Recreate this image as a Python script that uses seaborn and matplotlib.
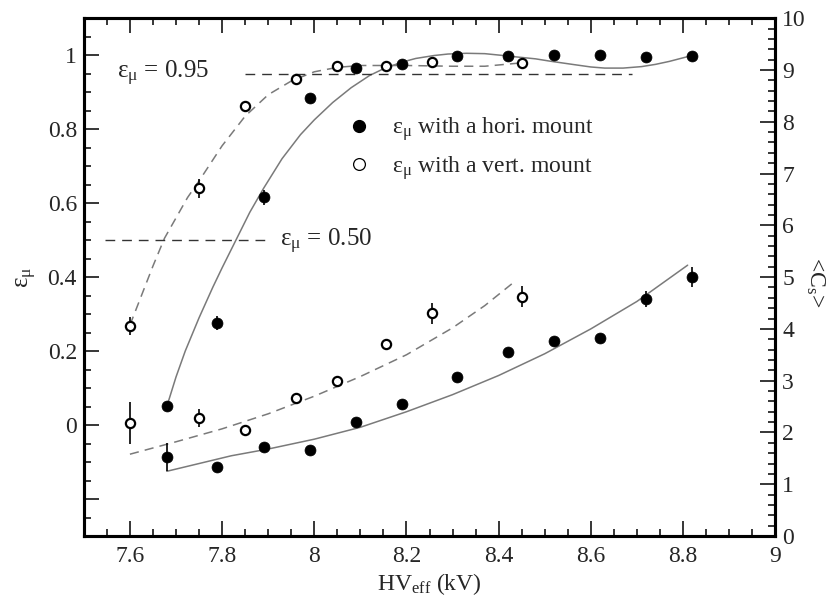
import matplotlib
matplotlib.use("Agg")
import matplotlib.pyplot as plt
import seaborn as sns
from matplotlib.ticker import MultipleLocator, FuncFormatter
from matplotlib.lines import Line2D

# ---------------- data ----------------
# efficiency, horizontal mount (filled), left axis
hv_hori = [7.68, 7.79, 7.89, 7.99, 8.09, 8.19, 8.31, 8.42, 8.52, 8.62, 8.72, 8.82]
eff_hori = [0.051, 0.276, 0.616, 0.884, 0.965, 0.976, 0.997, 0.997, 1.0, 1.0, 0.995, 0.997]
eff_hori_err = [0.012, 0.02, 0.02, 0.01, 0.005, 0.005, 0.004, 0.004, 0.003, 0.003, 0.003, 0.003]

# efficiency, vertical mount (open), left axis
hv_vert = [7.60, 7.75, 7.85, 7.96, 8.05, 8.155, 8.255, 8.45]
eff_vert = [0.268, 0.640, 0.862, 0.935, 0.970, 0.970, 0.981, 0.978]
eff_vert_err = [0.025, 0.025, 0.015, 0.008, 0.005, 0.005, 0.004, 0.004]

# cluster size <C_s>, right axis
cs_hori = [1.52, 1.33, 1.72, 1.66, 2.20, 2.55, 3.07, 3.55, 3.76, 3.82, 4.58, 5.00]
cs_hori_err = [0.27, 0.05, 0.06, 0.05, 0.05, 0.05, 0.05, 0.06, 0.06, 0.06, 0.15, 0.20]
cs_vert = [2.18, 2.28, 2.05, 2.66, 2.99, 3.71, 4.30, 4.62]
cs_vert_err = [0.40, 0.18, 0.05, 0.05, 0.05, 0.10, 0.20, 0.20]

# fitted curves
fit_eff_hori_x = [7.68, 7.70, 7.72, 7.75, 7.78, 7.80, 7.83, 7.86, 7.89, 7.93, 7.97, 8.00,
                  8.04, 8.08, 8.12, 8.15, 8.19, 8.22, 8.26, 8.29, 8.33, 8.37, 8.41, 8.44,
                  8.48, 8.51, 8.56, 8.60, 8.63, 8.67, 8.71, 8.74, 8.77, 8.81]
fit_eff_hori_y = [0.05, 0.13, 0.20, 0.29, 0.373, 0.425, 0.50, 0.575, 0.64, 0.72, 0.785, 0.825,
                  0.872, 0.912, 0.945, 0.963, 0.981, 0.991, 0.999, 1.003, 1.005, 1.004, 0.999, 0.995,
                  0.990, 0.984, 0.975, 0.968, 0.965, 0.965, 0.969, 0.975, 0.983, 0.996]
fit_eff_vert_x = [7.60, 7.625, 7.65, 7.675, 7.70, 7.725, 7.75, 7.80, 7.85, 7.90, 7.95, 8.00,
                  8.05, 8.10, 8.20, 8.30, 8.37, 8.44]
fit_eff_vert_y = [0.27, 0.35, 0.43, 0.505, 0.56, 0.615, 0.66, 0.755, 0.835, 0.893, 0.93, 0.955,
                  0.967, 0.972, 0.972, 0.970, 0.970, 0.978]
fit_cs_hori_x = [7.68, 7.75, 7.82, 7.90, 8.00, 8.10, 8.20, 8.30, 8.40, 8.50, 8.60, 8.70, 8.81]
fit_cs_hori_y = [1.25, 1.40, 1.55, 1.68, 1.87, 2.10, 2.40, 2.73, 3.10, 3.52, 4.00, 4.53, 5.23]
fit_cs_vert_x = [7.60, 7.70, 7.80, 7.90, 8.00, 8.10, 8.20, 8.30, 8.37, 8.43]
fit_cs_vert_y = [1.58, 1.82, 2.07, 2.36, 2.70, 3.08, 3.50, 4.02, 4.45, 4.88]

# reference levels
ref95_x = [7.85, 8.69]
ref95_y = [0.95, 0.95]
ref50_x = [7.546, 7.90]
ref50_y = [0.50, 0.50]

legend_labels = ["ε$_{\\mathrm{μ}}$ with a hori. mount", "ε$_{\\mathrm{μ}}$ with a vert. mount"]

# ---------------- style ----------------
sns.set_theme(style="white")
plt.rcParams["font.family"] = ["Liberation Serif", "DejaVu Serif"]
plt.rcParams["mathtext.fontset"] = "custom"
plt.rcParams["mathtext.rm"] = "Liberation Serif"
plt.rcParams["mathtext.it"] = "Liberation Serif"
plt.rcParams["mathtext.bf"] = "Liberation Serif:bold"

FS = 17
fig = plt.figure(figsize=(8.3, 6.05), dpi=100)
ax = fig.add_axes([0.101, 0.114, 0.833, 0.856])
ax2 = ax.twinx()

fit_col = "#7a7a7a"
ref_col = "#333333"

# fit curves
sns.lineplot(x=fit_eff_hori_x, y=fit_eff_hori_y, ax=ax, color=fit_col, lw=1.1, estimator=None, zorder=2)
sns.lineplot(x=fit_eff_vert_x, y=fit_eff_vert_y, ax=ax, color=fit_col, lw=1.1, estimator=None,
             linestyle=(0, (6, 4)), zorder=2)
sns.lineplot(x=fit_cs_hori_x, y=fit_cs_hori_y, ax=ax2, color=fit_col, lw=1.1, estimator=None, zorder=2)
sns.lineplot(x=fit_cs_vert_x, y=fit_cs_vert_y, ax=ax2, color=fit_col, lw=1.1, estimator=None,
             linestyle=(0, (6, 4)), zorder=2)

# reference lines
sns.lineplot(x=ref95_x, y=ref95_y, ax=ax, color=ref_col, lw=1.0, estimator=None,
             linestyle=(0, (7, 5)), zorder=2)
sns.lineplot(x=ref50_x, y=ref50_y, ax=ax, color=ref_col, lw=1.0, estimator=None,
             linestyle=(0, (7, 5)), zorder=2)

# error bars
ax.errorbar(hv_hori, eff_hori, yerr=eff_hori_err, fmt="none", ecolor="black", elinewidth=1.2, capsize=0, zorder=3)
ax.errorbar(hv_vert, eff_vert, yerr=eff_vert_err, fmt="none", ecolor="black", elinewidth=1.2, capsize=0, zorder=3)
ax2.errorbar(hv_hori, cs_hori, yerr=cs_hori_err, fmt="none", ecolor="black", elinewidth=1.2, capsize=0, zorder=3)
ax2.errorbar(hv_vert, cs_vert, yerr=cs_vert_err, fmt="none", ecolor="black", elinewidth=1.2, capsize=0, zorder=3)

# points
sns.scatterplot(x=hv_hori, y=eff_hori, ax=ax, color="black", edgecolor="black", s=62, linewidth=0.5, zorder=4)
sns.scatterplot(x=hv_vert, y=eff_vert, ax=ax, color="white", edgecolor="black", s=44, linewidth=1.6, zorder=4)
sns.scatterplot(x=hv_hori, y=cs_hori, ax=ax2, color="black", edgecolor="black", s=62, linewidth=0.5, zorder=4)
sns.scatterplot(x=hv_vert, y=cs_vert, ax=ax2, color="white", edgecolor="black", s=44, linewidth=1.6, zorder=4)

# annotations
ax.text(7.572, 0.95, "ε$_{\\mathrm{μ}}$ = 0.95", ha="left", va="center", fontsize=FS + 1, zorder=5)
ax.text(7.925, 0.497, "ε$_{\\mathrm{μ}}$ = 0.50", ha="left", va="center", fontsize=FS + 1, zorder=5)

# legend
handles = [
    Line2D([], [], marker="o", ls="none", markerfacecolor="black", markeredgecolor="black", markersize=8.5),
    Line2D([], [], marker="o", ls="none", markerfacecolor="white", markeredgecolor="black",
           markersize=8.5, markeredgewidth=0.9),
]
ax.legend(handles, legend_labels, loc="upper left", bbox_to_anchor=(0.381, 0.812),
          frameon=False, fontsize=FS, handlelength=1.0, handletextpad=0.9,
          borderpad=0, borderaxespad=0, labelspacing=0.45)

# axes limits and ticks
ax.set_xlim(7.5, 9.0)
ax.set_ylim(-0.3, 1.1)
ax2.set_ylim(0, 10)

ax.xaxis.set_major_locator(MultipleLocator(0.2))
ax.xaxis.set_minor_locator(MultipleLocator(0.05))
ax.yaxis.set_major_locator(MultipleLocator(0.2))
ax.yaxis.set_minor_locator(MultipleLocator(0.05))
ax2.yaxis.set_major_locator(MultipleLocator(1))
ax2.yaxis.set_minor_locator(MultipleLocator(0.2))

ax.xaxis.set_major_formatter(FuncFormatter(lambda v, p: f"{v:g}"))
ax.yaxis.set_major_formatter(FuncFormatter(lambda v, p: "" if v < -1e-9 else ("0" if abs(v) < 1e-9 else f"{v:g}")))
ax2.yaxis.set_major_formatter(FuncFormatter(lambda v, p: f"{v:.0f}"))

ax.tick_params(axis="x", which="both", direction="in", top=True, bottom=True, labelsize=FS, pad=7, color="black")
ax.tick_params(axis="y", which="both", direction="in", left=True, right=False, labelsize=FS, pad=5, color="black")
ax.tick_params(which="major", length=11, width=1.1)
ax.tick_params(which="minor", length=5, width=1.1)
ax2.tick_params(axis="y", which="both", direction="in", right=True, left=False, labelsize=FS, pad=5, color="black")
ax2.tick_params(which="major", length=11, width=1.1)
ax2.tick_params(which="minor", length=5, width=1.1)

for a in (ax, ax2):
    for s in a.spines.values():
        s.set_linewidth(2.2)
        s.set_color("black")

ax.set_xlabel("HV$_{\\mathrm{eff}}$ (kV)", fontsize=FS, labelpad=3)
ax.set_ylabel("ε$_{\\mathrm{μ}}$", fontsize=FS + 1, labelpad=6)
ax2.set_ylabel("<C$_{\\mathrm{s}}$>", fontsize=FS, rotation=270, ha="center", va="center")
ax2.yaxis.set_label_coords(1.058, 0.49)

fig.savefig("out.png", dpi=100)
